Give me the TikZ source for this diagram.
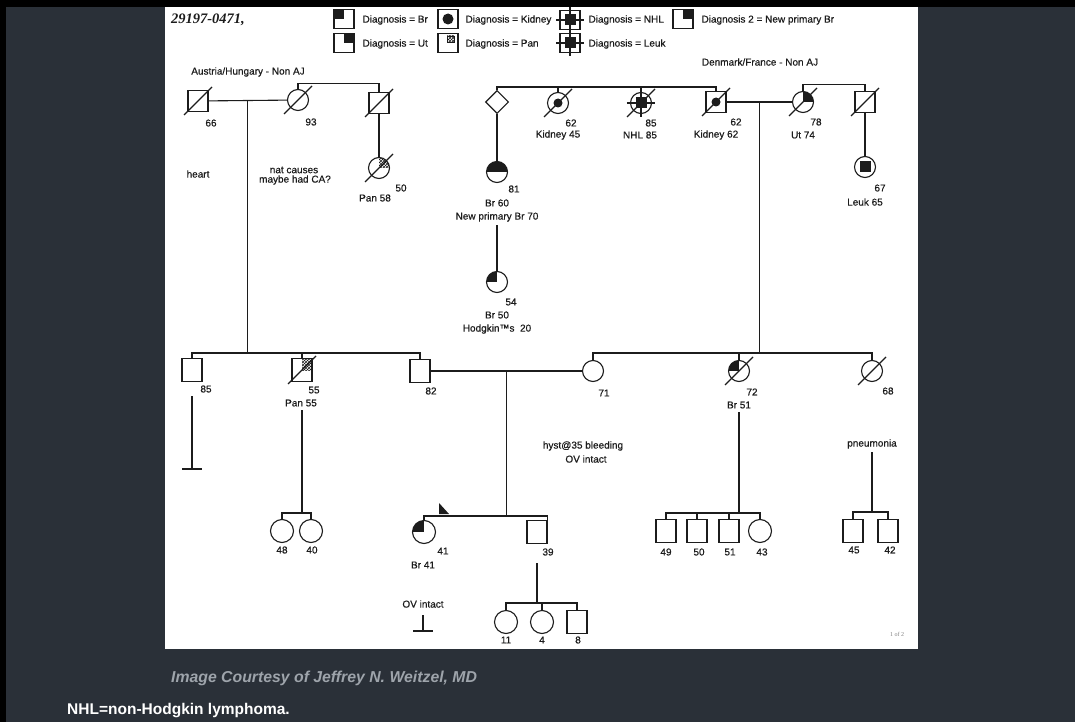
\documentclass[tikz,border=0pt]{standalone}
\usepackage{fontspec}
\setmainfont{Liberation Sans}
\newfontfamily\pedsans{Liberation Sans}[FakeBold=0.5]
\newfontfamily\serifhead{Liberation Serif}
\usepackage{tikz}
\usetikzlibrary{calc,shapes.geometric,patterns}
\definecolor{slatebg}{RGB}{42,48,56}
\definecolor{ink}{RGB}{28,28,28}
\definecolor{capgray}{RGB}{158,164,171}
\newcommand{\dead}[1]{\draw[link] ($(#1.center)+(-14,14)$) -- ($(#1.center)+(14,-14)$);}
\newcommand{\crosshair}[1]{\draw[link] ($(#1.north)+(0,-3)$) -- ($(#1.south)+(0,3)$) ($(#1.west)+(-3,0)$) -- ($(#1.east)+(3,0)$);}

\begin{document}
\begin{tikzpicture}[
    x=1pt, y=-1pt,
    every node/.style={font=\pedsans\fontsize{10}{11}\selectfont, text=ink},
    link/.style={draw=ink, line width=1.1pt},
    male/.style={link, rectangle, minimum width=20pt, minimum height=21pt, inner sep=0pt},
    female/.style={link, circle, minimum size=21pt, inner sep=0pt},
    unknown/.style={link, diamond, minimum size=23pt, inner sep=0pt},
    tall/.style={minimum height=23pt},
    brUL/.style={path picture={\fill[ink] (path picture bounding box.center) rectangle (path picture bounding box.north west);}},
    brUR/.style={path picture={\fill[ink] (path picture bounding box.center) rectangle (path picture bounding box.north east);}},
    brTop/.style={path picture={\fill[ink] (path picture bounding box.west) rectangle (path picture bounding box.north east);}},
    panUR/.style={path picture={\fill[pattern=crosshatch, pattern color=ink] (path picture bounding box.center) rectangle (path picture bounding box.north east);}},
    kidney/.style={path picture={\fill[ink] (path picture bounding box.center) circle (#1);}},
    kidney/.default=4.5pt,
    leuk/.style={path picture={\fill[ink] ($(path picture bounding box.center)+(-5.5pt,-5.5pt)$) rectangle +(11pt,11pt);}},
]
\useasboundingbox (0,0) rectangle (1075,722);

% === BACKGROUND ===
\fill[slatebg] (0,0) rectangle (1075,722);
\fill[black] (0,0) rectangle (1075,7);
\fill[black] (0,0) rectangle (6,722);
\fill[white] (165,7) rectangle (918,649);

% === HEADER AND LEGEND ===
\node[font=\serifhead\bfseries\itshape\fontsize{14.5}{16}\selectfont] (caseid) at (208,20) {29197-0471,};

\node[male, minimum height=19pt, brUL] (legBr) at (344,19) {};
\node[anchor=west] at (359,20) {Diagnosis = Br};
\node[male, minimum height=19pt, kidney=5.5pt] (legKid) at (448,19) {};
\node[anchor=west] at (462,20) {Diagnosis = Kidney};
\node[male, minimum height=19pt, leuk] (legNHL) at (570,20) {};
\crosshair{legNHL}
\node[anchor=west] at (585,20) {Diagnosis = NHL};
\node[male, minimum height=19pt, brUR] (legBrTwo) at (683,19) {};
\node[anchor=west] at (698,20) {Diagnosis 2 = New primary Br};

\node[male, minimum height=19pt, brUR] (legUt) at (344,43) {};
\node[anchor=west] at (359,44) {Diagnosis = Ut};
\node[male, minimum height=19pt] (legPan) at (448,43) {};
\draw[link, line width=0.6pt, pattern=crosshatch, pattern color=ink] ($(legPan.center)+(-1,-7)$) rectangle ($(legPan.center)+(6,-1)$);
\node[anchor=west] at (462,44) {Diagnosis = Pan};
\node[male, minimum height=19pt, leuk] (legLeuk) at (570,43) {};
\crosshair{legLeuk}
\node[anchor=west] at (585,44) {Diagnosis = Leuk};

\node (famL) at (248,72) {Austria/Hungary - Non AJ};
\node (famR) at (760,62) {Denmark/France - Non AJ};

% === GENERATION I, LEFT ===
\node[male] (gf) at (198,101) {};
\dead{gf}
\node at (211,123) {66};
\node[female] (gm) at (298,100) {};
\dead{gm}
\node at (311,122) {93};
\node[male] (gmBro) at (379,103) {};
\dead{gmBro}
\node[female, panUR] (pan58) at (379,168) {};
\dead{pan58}
\node at (401,188) {50};
\node at (375,198) {Pan 58};

\node at (198,174) {heart};
\node at (294,170) {nat causes};
\node at (295,180) {maybe had CA?};

\coordinate (mateL) at ($(gf.east)!0.5!(gm.west)$);
\draw[link] (gf) -- (gm);
\draw[link] (gm.north) -- ++(0,-5) -| (gmBro.north);
\draw[link] (gmBro) -- (pan58);

% === GENERATION I, RIGHT ===
\node[unknown] (sib) at (497,102) {};
\node[female, kidney] (kid45) at (558,103) {};
\dead{kid45}
\node at (571,123) {62};
\node at (558,135) {Kidney 45};
\node[female, leuk] (nhl85) at (641,103) {};
\crosshair{nhl85}
\dead{nhl85}
\node at (651,123) {85};
\node at (640,135) {NHL 85};
\node[male, kidney] (kid62) at (716,102) {};
\dead{kid62}
\node at (736,122) {62};
\node at (716,135) {Kidney 62};
\node[female, brUR] (ut74) at (803,102) {};
\dead{ut74}
\node at (816,122) {78};
\node at (803,135) {Ut 74};
\node[male] (utBro) at (865,102) {};
\dead{utBro}
\node[female, leuk] (leuk65) at (865,167) {};
\node at (880,188) {67};
\node at (865,202) {Leuk 65};

\draw[link] (sib.north) -- (sib.north |- 0,87) -| (kid62.north);
\draw[link] (kid45.north) -- (kid45.north |- 0,87);
\draw[link] (nhl85.north) -- (nhl85.north |- 0,87);
\coordinate (mateR) at ($(kid62.east)!0.5!(ut74.west)$);
\draw[link] (kid62) -- (ut74);
\draw[link] (ut74.north) -- ++(0,-6) -| (utBro.north);
\draw[link] (utBro) -- (leuk65);

% cousin line
\node[female, brTop] (br60) at (497,172) {};
\node at (514,189) {81};
\node at (497,203) {Br 60};
\node (np70) at (497,217) {New primary Br 70};
\node[female, brUL] (br50) at (497,282) {};
\node at (511,302) {54};
\node at (497,315) {Br 50};
\node at (497,329) {Hodgkin™s~~20};
\draw[link] (sib) -- (br60);
\draw[link] (np70) -- (br50);

% === GENERATION II ===
\node[male, tall] (u85) at (192,370) {};
\node (l85) at (206,389) {85};
\node[male, tall, panUR] (pan55) at (302,370) {};
\dead{pan55}
\node at (314,390) {55};
\node (lPan55) at (301,403) {Pan 55};
\node[male, tall] (dad) at (420,371) {};
\node at (431,391) {82};
\node[female] (mom) at (593,371) {};
\node at (604,393) {71};
\node[female, brUL] (br51) at (739,371) {};
\dead{br51}
\node at (752,392) {72};
\node (lBr51) at (739,405) {Br 51};
\node[female] (aunt68) at (872,371) {};
\dead{aunt68}
\node at (888,391) {68};
\node (pneu) at (872,444) {pneumonia};
\node at (583,446) {hyst@35 bleeding};
\node at (586,459) {OV intact};

\draw[link] (mateL) -- (mateL |- 0,353);
\draw[link] (u85.north) -- (u85.north |- 0,353) -| (dad.north);
\draw[link] (pan55.north) -- (pan55.north |- 0,353);
\draw[link] (mateR) -- (mateR |- 0,353);
\draw[link] (mom.north) -- (mom.north |- 0,353) -| (aunt68.north);
\draw[link] (br51.north) -- (br51.north |- 0,353);
\coordinate (mateC) at ($(dad.east)!0.5!(mom.west)$);
\draw[link] (dad) -- (mom);

% no issue
\coordinate (t85) at (192,469);
\draw[link] (l85.south -| u85) -- (t85);
\draw[link] ($(t85)+(-10,0)$) -- ($(t85)+(10,0)$);

% === GENERATION III ===
\node[female, tall] (g48) at (282,531) {};
\node at (282,550) {48};
\node[female, tall] (g40) at (311,531) {};
\node at (312,550) {40};
\draw[link] (lPan55.south -| pan55) -- (pan55 |- 0,513);
\draw[link] (g48.north) -- (g48.north |- 0,513) -| (g40.north);

\node[female, tall, brUL] (proband) at (424,532) {};
\node at (443,551) {41};
\node at (423,565) {Br 41};
\node[male, tall] (bro39) at (537,532) {};
\node (l39) at (548,552) {39};
\fill[ink] (439,503) -- (439,514) -- (449,514) -- cycle;
\draw[link] (mateC) -- (mateC |- 0,516);
\draw[link] (proband.north) -- (proband.north |- 0,516) -| (bro39.north east);

\node (ovint) at (423,604) {OV intact};
\coordinate (tOv) at (423,631);
\draw[link] ($(ovint.south)+(0,4)$) -- (tOv);
\draw[link] ($(tOv)+(-10,0)$) -- ($(tOv)+(10,0)$);

\node[female, tall] (n11) at (506,622) {};
\node at (506,640) {11};
\node[female, tall] (n4) at (542,622) {};
\node at (542,640) {4};
\node[male, tall] (n8) at (577,622) {};
\node at (578,640) {8};
\draw[link] ($(l39.south -| bro39)+(0,4)$) -- (bro39 |- 0,603);
\draw[link] (n11.north) -- (n11.north |- 0,603) -| (n8.north);
\draw[link] (n4.north) -- (n4.north |- 0,603);

\node[male, tall] (c49) at (666,531) {};
\node at (666,552) {49};
\node[male, tall] (c50) at (697,531) {};
\node at (699,552) {50};
\node[male, tall] (c51) at (729,531) {};
\node at (730,552) {51};
\node[female, tall] (c43) at (760,531) {};
\node at (762,552) {43};
\draw[link] (lBr51.south -| br51) -- (br51 |- 0,513);
\draw[link] (c49.north) -- (c49.north |- 0,513) -| (c43.north);
\draw[link] (c50.north) -- (c50.north |- 0,513);
\draw[link] (c51.north) -- (c51.north |- 0,513);

\node[male, tall] (c45) at (853,531) {};
\node at (854,550) {45};
\node[male, tall] (c42) at (888,531) {};
\node at (890,550) {42};
\draw[link] (pneu.south -| aunt68) -- (aunt68 |- 0,512);
\draw[link] (c45.north) -- (c45.north |- 0,512) -| (c42.north);

\node[font=\serifhead\fontsize{6}{7}\selectfont, text=gray] at (897,634) {1 of 2};

% === CAPTIONS ===
\node[font=\normalfont\bfseries\itshape\fontsize{15.8}{18}\selectfont, text=capgray, anchor=west, inner sep=0pt] at (171,678) {Image Courtesy of Jeffrey N. Weitzel, MD};
\node[font=\normalfont\bfseries\fontsize{15.5}{18}\selectfont, text=white, anchor=west, inner sep=0pt] at (67,711) {NHL=non-Hodgkin lymphoma.};

\end{tikzpicture}
\end{document}
